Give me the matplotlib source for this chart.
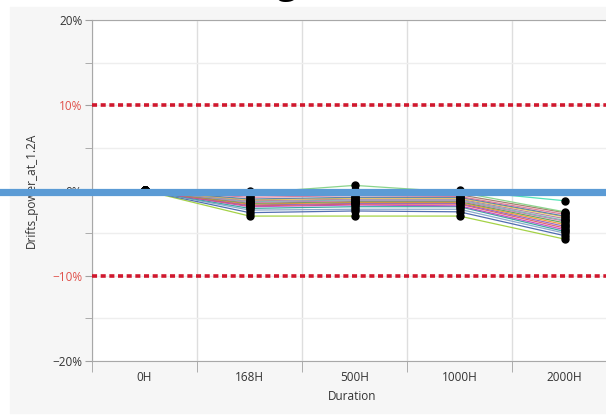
import matplotlib.pyplot as plt
import numpy as np
from matplotlib.lines import Line2D
from matplotlib.patches import Rectangle
from matplotlib.ticker import FixedLocator, PercentFormatter

plt.rcParams['font.family'] = ['Open Sans', 'DejaVu Sans']

durations = ['0H', '168H', '500H', '1000H', '2000H']

# drift per unit, in percent, at each duration
drifts = [
    [0, -3.0, -3.0, -3.0, -5.7],
    [0, -2.6, -2.4, -2.5, -5.3],
    [0, -2.3, -2.2, -2.2, -5.0],
    [0, -2.1, -1.9, -1.9, -4.8],
    [0, -1.9, -1.7, -1.8, -4.6],
    [0, -1.8, -1.6, -1.6, -4.4],
    [0, -1.7, -1.5, -1.5, -4.2],
    [0, -1.6, -1.4, -1.4, -4.0],
    [0, -1.5, -1.3, -1.3, -3.8],
    [0, -1.4, -1.2, -1.2, -3.6],
    [0, -1.3, -1.1, -1.1, -3.5],
    [0, -1.2, -1.0, -1.0, -3.3],
    [0, -1.1, -0.9, -0.9, -3.1],
    [0, -1.0, -0.8, -0.8, -3.0],
    [0, -0.8, -0.6, -0.7, -2.8],
    [0, -0.6, -0.4, -0.5, -2.6],
    [0, -0.3, 0.6, -0.2, -2.5],
    [0, -0.1, 0.1, 0.0, -1.2],
]
colors = [
    '#9acd32', '#3f5fa8', '#7fa0c8', '#2aa198', '#c040c0', '#e15759',
    '#8a5cc0', '#f28e2b', '#59a14f', '#d070b0', '#76b7b2', '#b07aa1',
    '#edc948', '#4e79a7', '#e07090', '#9c755f', '#7fd07f', '#40e0b0',
]
limit_pct = 10

fig = plt.figure(figsize=(6.06, 4.15), dpi=100, facecolor='white')
fig.add_artist(Rectangle((10 / 606, 2 / 415), 1, 406 / 415,
                         transform=fig.transFigure, color='#f6f6f6', zorder=0))

ax = fig.add_axes([92 / 606, 54 / 415, 525 / 606, 341 / 415])
ax.set_facecolor('white')

x = np.arange(len(durations))
for vals, c in zip(drifts, colors):
    ax.plot(x, vals, color=c, lw=0.9, alpha=0.9, zorder=3)
for vals in drifts:
    ax.plot(x, vals, ls='none', marker='o', ms=5, color='black', zorder=4)

for y in (limit_pct, -limit_pct):
    ax.axhline(y, color='#d0182e', lw=2.6, ls=(0, (1.4, 1.0)), zorder=5,
               clip_on=False)

ax.set_xlim(-0.5, len(durations) - 0.5)
ax.set_ylim(-20, 20)
ax.set_xticks(x)
ax.set_xticklabels(durations)
ax.xaxis.set_minor_locator(FixedLocator(np.arange(-0.5, len(durations), 1)))
ax.tick_params(axis='x', which='major', length=0, pad=7, labelsize=8.5,
               labelcolor='#333333')
ax.tick_params(axis='x', which='minor', length=8, color='#a0a0a0')
ax.grid(axis='x', which='minor', color='#dedede', lw=1)

ax.set_yticks([-20, -10, 0, 10, 20])
ax.yaxis.set_minor_locator(FixedLocator([-15, -5, 5, 15]))
ax.yaxis.set_major_formatter(PercentFormatter(decimals=0))
ax.tick_params(axis='y', which='both', length=5, color='#a0a0a0',
               labelsize=8.5, labelcolor='#333333', pad=2)
ax.grid(axis='y', which='both', color='#eeeeee', lw=1)
ax.set_axisbelow(True)
for lbl in ax.get_yticklabels():
    if lbl.get_text() in ('10%', '-10%', '−10%'):
        lbl.set_color('#e0504a')

for side in ('left', 'bottom', 'top'):
    ax.spines[side].set_color('#a8a8a8')
ax.spines['right'].set_visible(False)

ax.set_xlabel('Duration', fontsize=8.5, color='#333333')
ax.set_ylabel('Drifts_power_at_1.2A', fontsize=8.5, color='#333333',
              labelpad=10)
ax.xaxis.set_label_coords((352 - 92) / 525, -29 / 341)

# title sits above the frame; only its descender reaches into view
fig.text(287 / 606, 1 + 7.5 / 415, 'g', fontsize=26, fontweight='bold',
         ha='center', va='baseline', color='black')

fig.add_artist(Line2D([0, 1], [223 / 415, 223 / 415], transform=fig.transFigure,
                      color='#5b9bd5', lw=5.2, zorder=10))

fig.savefig('out.png', dpi=100)
